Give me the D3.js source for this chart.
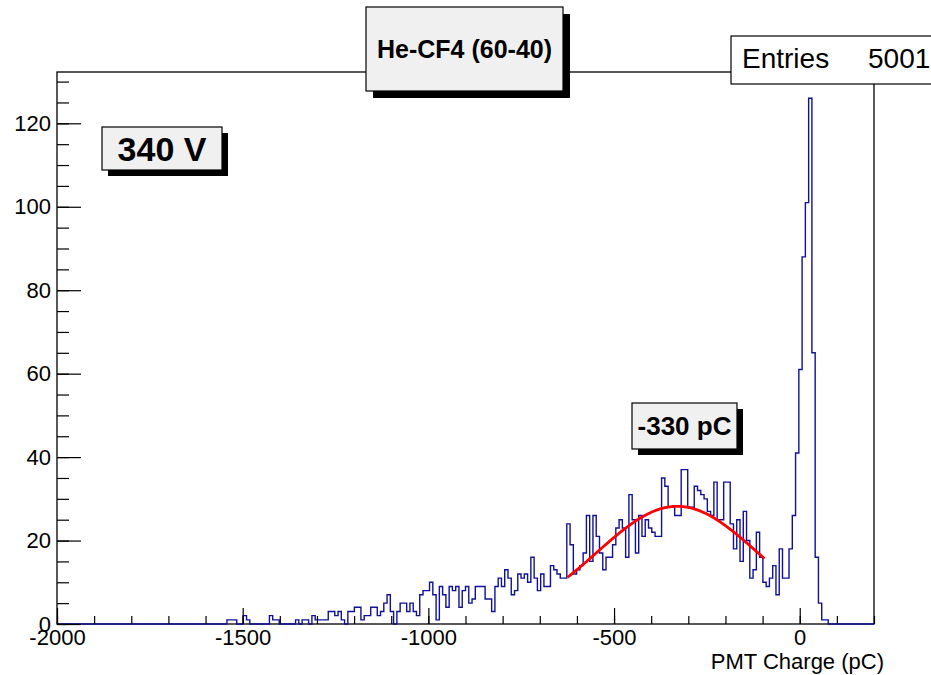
<!DOCTYPE html>
<html>
<head>
<meta charset="utf-8">
<script src="https://cdn.jsdelivr.net/npm/d3@7"></script>
<style>
  html, body { margin: 0; padding: 0; background: #fff; }
  svg { display: block; font-family: "Liberation Sans", Arial, Helvetica, sans-serif; }
</style>
</head>
<body>
<svg id="chart" width="931" height="675"></svg>
<script>
// Histogram binning: 250 bins from -2000 to 200 pC
const binLow = -2000;
const binHigh = 200;
const binCount = 250;

// Counts per bin (bin 0 starts at -2000 pC)
const counts = [
  0,0,0,0,0,0,0,0,0,0, 0,0,0,0,0,0,0,0,0,0,
  0,0,0,0,0,0,0,0,0,0, 0,0,0,0,0,0,0,0,0,0,
  0,0,0,0,0,0,0,0,0,0,
  0,0,1,1,1,0,0,2,1,0, 0,0,0,0,0,2,1,1,0,0,
  0,0,0,1,0,1,1,0,2,1, 1,1,1,3,3,2,3,1,0,3,
  3,4,4,1,2,2,4,4,2,3, 5,7,3,0,3,5,5,3,5,3,
  2,7,8,8,10,7,1,9,7,4, 9,8,9,4,8,9,5,6,9,9,
  9,6,6,3,9,11,9,13,11,7, 8,12,11,12,10,16,11,8,12,9,
  9,14,13,12,11,11,24,19,12,13, 14,17,26,15,26,21,17,13,16,16,
  19,23,25,23,16,31,25,17,26,21, 25,23,22,21,21,35,33,28,28,26,
  26,37,37,28,28,33,32,31,30,27, 26,34,25,25,34,34,24,18,25,15,
  27,20,11,13,22,16,10,9,11,14, 7,18,11,11,18,26,41,61,88,101,
  126,65,16,5,1,1,0,0,0,0, 0,0,0,0,0,0,0,0,0,0
];

// Gaussian fit of the signal region
const fitConstant = 28.2;
const fitMean = -330;
const fitSigma = 217;
const fitRange = [-625, -95];

// Axis ticks
const xMajorTicks = [-2000, -1500, -1000, -500, 0];
const xMinorTicks = d3.range(-2000, 201, 100);
const yMajorTicks = [0, 20, 40, 60, 80, 100, 120];
const yMinorTicks = d3.range(0, 131, 5);

// Text
const titleText = "He-CF4 (60-40)";
const voltageText = "340 V";
const peakText = "-330 pC";
const xTitle = "PMT Charge (pC)";
const statsLabel = "Entries";
const statsValue = "5001";

const svg = d3.select("#chart");
const frame = { left: 57, right: 874, top: 72, bottom: 624 };
const yMax = d3.max(counts) * 1.05;

const x = d3.scaleLinear().domain([binLow, binHigh]).range([frame.left, frame.right]);
const y = d3.scaleLinear().domain([0, yMax]).range([frame.bottom, frame.top]);

const binWidth = (binHigh - binLow) / binCount;
const plainNumber = d => String(d);   // ASCII hyphen for negatives

// Frame
svg.append("rect")
  .attr("x", frame.left).attr("y", frame.top)
  .attr("width", frame.right - frame.left).attr("height", frame.bottom - frame.top)
  .attr("fill", "none").attr("stroke", "#000").attr("stroke-width", 1.3);

// Histogram outline (step)
const steps = [];
counts.forEach((c, i) => {
  const x0 = binLow + i * binWidth;
  steps.push([x0, c]);
  steps.push([x0 + binWidth, c]);
});
const stepLine = d3.line().x(d => x(d[0])).y(d => y(d[1]));
svg.append("path")
  .datum(steps)
  .attr("d", stepLine)
  .attr("fill", "none")
  .attr("stroke", "#10109a")
  .attr("stroke-width", 1.4);

// Fit curve
const fitPts = d3.range(0, 201).map(i => {
  const v = fitRange[0] + (fitRange[1] - fitRange[0]) * i / 200;
  return [v, fitConstant * Math.exp(-0.5 * Math.pow((v - fitMean) / fitSigma, 2))];
});
svg.append("path")
  .datum(fitPts)
  .attr("d", d3.line().x(d => x(d[0])).y(d => y(d[1])))
  .attr("fill", "none")
  .attr("stroke", "#ff0000")
  .attr("stroke-width", 2.8);

// X axis
const xAxisG = svg.append("g").attr("transform", `translate(0,${frame.bottom})`);
xAxisG.append("g")
  .call(d3.axisBottom(x).tickValues(xMinorTicks).tickSize(-8).tickFormat(""))
  .call(g => g.select(".domain").remove());
xAxisG.append("g")
  .call(d3.axisBottom(x).tickValues(xMajorTicks).tickSize(-16).tickPadding(5).tickFormat(plainNumber))
  .call(g => g.select(".domain").remove());
xAxisG.selectAll("line").attr("stroke", "#000").attr("stroke-width", 1.2);
xAxisG.selectAll("text").attr("font-size", 22).attr("fill", "#000")
  .attr("font-family", "'Liberation Sans', Arial, sans-serif");

// Y axis
const yAxisG = svg.append("g").attr("transform", `translate(${frame.left},0)`);
yAxisG.append("g")
  .call(d3.axisLeft(y).tickValues(yMinorTicks).tickSize(-12).tickFormat(""))
  .call(g => g.select(".domain").remove());
yAxisG.append("g")
  .call(d3.axisLeft(y).tickValues(yMajorTicks).tickSize(-24).tickPadding(6).tickFormat(plainNumber))
  .call(g => g.select(".domain").remove());
yAxisG.selectAll("line").attr("stroke", "#000").attr("stroke-width", 1.2);
yAxisG.selectAll("text").attr("font-size", 22).attr("fill", "#000")
  .attr("font-family", "'Liberation Sans', Arial, sans-serif");

// X axis title
svg.append("text")
  .attr("x", 884).attr("y", 669)
  .attr("text-anchor", "end")
  .attr("font-size", 22)
  .text(xTitle);

// Shadowed text boxes
function pave(bx, by, bw, bh, label, size, shadow) {
  const g = svg.append("g");
  if (shadow) {
    g.append("rect").attr("x", bx + shadow).attr("y", by + shadow)
      .attr("width", bw).attr("height", bh).attr("fill", "#000");
  }
  g.append("rect").attr("x", bx).attr("y", by)
    .attr("width", bw).attr("height", bh)
    .attr("fill", "#f0f0f0").attr("stroke", "#000").attr("stroke-width", 1.2);
  g.append("text")
    .attr("x", bx + bw / 2).attr("y", by + bh / 2)
    .attr("dy", "0.36em")
    .attr("text-anchor", "middle")
    .attr("font-weight", "bold")
    .attr("font-size", size)
    .text(label);
}

pave(366, 7, 197, 84, titleText, 25, 7);
pave(102, 127, 120, 43, voltageText, 34, 6);
pave(632, 403, 105, 46, peakText, 26, 6);

// Statistics box
const stats = svg.append("g");
stats.append("rect")
  .attr("x", 731).attr("y", 36).attr("width", 260).attr("height", 48)
  .attr("fill", "#fff").attr("stroke", "#000").attr("stroke-width", 1.2);
stats.append("text").attr("x", 742).attr("y", 68).attr("font-size", 28).text(statsLabel);
stats.append("text").attr("x", 868).attr("y", 68).attr("font-size", 28).text(statsValue);
</script>
</body>
</html>
